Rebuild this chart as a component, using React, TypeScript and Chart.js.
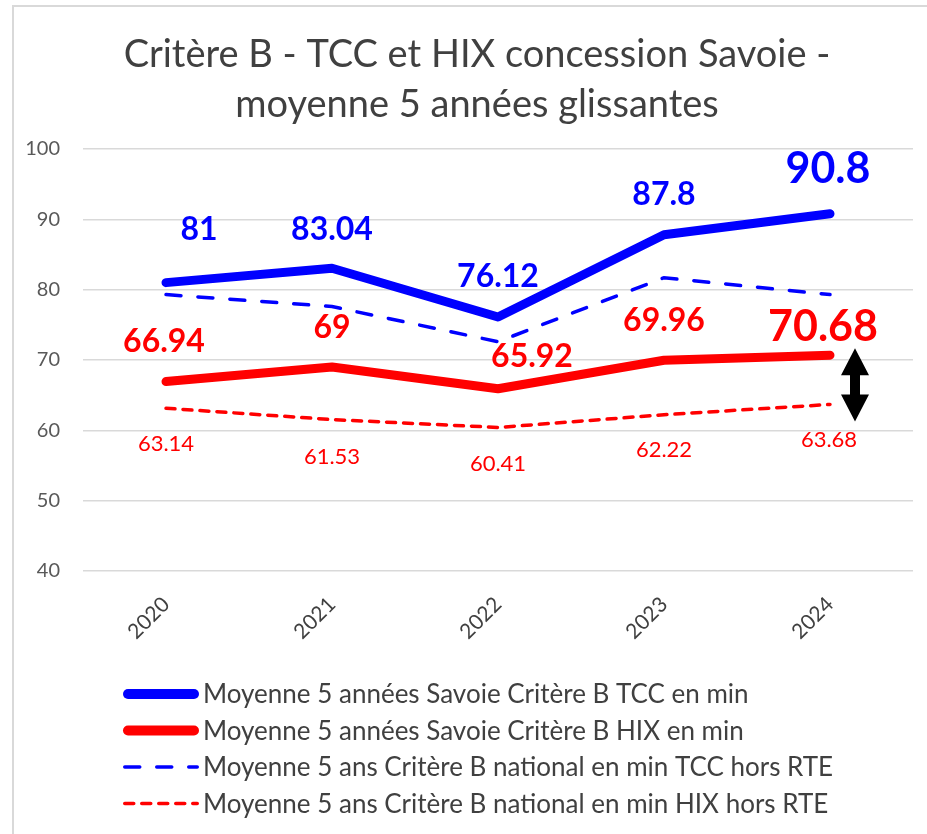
import React, { useEffect, useRef } from "react";
import { Chart, registerables } from "chart.js";

Chart.register(...registerables);

// ---- data ----
const years = ["2020", "2021", "2022", "2023", "2024"];
const tccSavoie = [81, 83.04, 76.12, 87.8, 90.8];
const hixSavoie = [66.94, 69, 65.92, 69.96, 70.68];
const tccNational = [79.3, 77.6, 72.6, 81.7, 79.3];
const hixNational = [63.14, 61.53, 60.41, 62.22, 63.68];
const yMin = 40;
const yMax = 100;
const yStep = 10;
const seriesNames = [
  "Moyenne 5 années Savoie Critère B TCC en min",
  "Moyenne 5 années Savoie Critère B HIX en min",
  "Moyenne 5 ans Critère B national en min TCC hors RTE",
  "Moyenne 5 ans Critère B national en min HIX hors RTE",
];
const titleLines = [
  "Critère B - TCC et HIX concession Savoie -",
  "moyenne 5 années glissantes",
];

// ---- styles ----
const BLUE = "#0000FF";
const RED = "#FF0000";
const TEXT = "#404040";
const AXIS_TEXT = "#595959";
const GRID = "#d9d9d9";
const FONT = "Lato, 'Noto Sans', sans-serif";

const labelStyles = [
  {
    show: true,
    color: BLUE,
    font: `bold 32px ${FONT}`,
    lastFont: `bold 43px ${FONT}`,
    offsets: [[33, -53], [0, -39], [0, -40], [0, -40], [-2, -45]],
  },
  {
    show: true,
    color: RED,
    font: `bold 32px ${FONT}`,
    lastFont: `bold 43px ${FONT}`,
    offsets: [[-2, -40], [0, -39], [34, -32], [0, -40], [-7, -28]],
  },
  { show: false, color: BLUE, font: "", lastFont: "", offsets: [] as number[][] },
  {
    show: true,
    color: RED,
    font: `22px ${FONT}`,
    lastFont: `22px ${FONT}`,
    offsets: [[0, 36], [0, 37], [0, 36], [0, 35], [-1, 35]],
  },
];

const legendLineWidths = [10, 10, 3.5, 3.5];

const decorPlugin = {
  id: "decor",
  beforeDraw(chart: any) {
    const ctx = chart.ctx;
    ctx.save();
    ctx.fillStyle = "#ffffff";
    ctx.fillRect(0, 0, chart.width, chart.height);
    // frame
    ctx.strokeStyle = GRID;
    ctx.lineWidth = 2;
    ctx.strokeRect(13, 6, chart.width + 20, chart.height + 20);
    // title
    ctx.fillStyle = TEXT;
    ctx.font = `38px ${FONT}`;
    ctx.textAlign = "center";
    ctx.textBaseline = "middle";
    titleLines.forEach((t, i) => ctx.fillText(t, 477, 55 + i * 50));
    ctx.restore();
  },
  afterDatasetsDraw(chart: any) {
    const ctx = chart.ctx;
    const xs = chart.scales.x;
    const ys = chart.scales.y;
    ctx.save();
    // arrow between Savoie HIX and national HIX for last year
    const last = years.length - 1;
    const ax = xs.getPixelForValue(last) + 25;
    const top = ys.getPixelForValue(hixSavoie[last]) - 7;
    const bot = ys.getPixelForValue(hixNational[last]) + 17;
    const hw = 14;
    const hh = 27;
    const sw = 5;
    ctx.fillStyle = "#000000";
    ctx.beginPath();
    ctx.moveTo(ax, top);
    ctx.lineTo(ax + hw, top + hh);
    ctx.lineTo(ax + sw, top + hh);
    ctx.lineTo(ax + sw, bot - hh);
    ctx.lineTo(ax + hw, bot - hh);
    ctx.lineTo(ax, bot);
    ctx.lineTo(ax - hw, bot - hh);
    ctx.lineTo(ax - sw, bot - hh);
    ctx.lineTo(ax - sw, top + hh);
    ctx.lineTo(ax - hw, top + hh);
    ctx.closePath();
    ctx.fill();

    // data labels
    ctx.textAlign = "center";
    ctx.textBaseline = "middle";
    chart.data.datasets.forEach((ds: any, i: number) => {
      const st = labelStyles[i];
      if (!st.show) return;
      const meta = chart.getDatasetMeta(i);
      meta.data.forEach((pt: any, j: number) => {
        const off = st.offsets[j] || [0, 0];
        ctx.fillStyle = st.color;
        ctx.font = j === ds.data.length - 1 ? st.lastFont : st.font;
        ctx.fillText(String(ds.data[j]), pt.x + off[0], pt.y + off[1]);
      });
    });

    // legend
    ctx.textAlign = "left";
    ctx.font = `26px ${FONT}`;
    chart.data.datasets.forEach((ds: any, i: number) => {
      const y = 694 + i * 36.5;
      const lw = legendLineWidths[i];
      ctx.strokeStyle = ds.borderColor;
      ctx.lineWidth = lw;
      ctx.lineCap = "round";
      ctx.setLineDash(ds.borderDash || []);
      ctx.beginPath();
      ctx.moveTo(123 + lw / 2, y);
      ctx.lineTo(199 - lw / 2, y);
      ctx.stroke();
      ctx.setLineDash([]);
      ctx.fillStyle = TEXT;
      ctx.fillText(ds.label, 203, y + 1);
    });
    ctx.restore();
  },
};

export default function App() {
  const ref = useRef<HTMLCanvasElement | null>(null);

  useEffect(() => {
    if (!ref.current) return;
    const chart = new Chart(ref.current, {
      type: "line",
      data: {
        labels: years,
        datasets: [
          {
            label: seriesNames[0],
            data: tccSavoie,
            borderColor: BLUE,
            backgroundColor: BLUE,
            borderWidth: 9,
            borderCapStyle: "round",
            borderJoinStyle: "round",
            pointRadius: 0,
            tension: 0,
          },
          {
            label: seriesNames[1],
            data: hixSavoie,
            borderColor: RED,
            backgroundColor: RED,
            borderWidth: 9,
            borderCapStyle: "round",
            borderJoinStyle: "round",
            pointRadius: 0,
            tension: 0,
          },
          {
            label: seriesNames[2],
            data: tccNational,
            borderColor: BLUE,
            backgroundColor: BLUE,
            borderWidth: 3.5,
            borderDash: [15, 17],
            borderCapStyle: "round",
            pointRadius: 0,
            tension: 0,
          },
          {
            label: seriesNames[3],
            data: hixNational,
            borderColor: RED,
            backgroundColor: RED,
            borderWidth: 3.5,
            borderDash: [9, 8],
            borderCapStyle: "round",
            pointRadius: 0,
            tension: 0,
          },
        ],
      },
      options: {
        animation: false,
        responsive: false,
        maintainAspectRatio: false,
        layout: { padding: { left: 0, right: 14, top: 149, bottom: 193 } },
        plugins: {
          legend: { display: false },
          title: { display: false },
          tooltip: { enabled: false },
        },
        scales: {
          x: {
            offset: true,
            grid: { display: false },
            border: { display: false },
            ticks: {
              minRotation: 45,
              maxRotation: 45,
              color: TEXT,
              font: { family: FONT, size: 21 },
              padding: 13,
            },
            afterFit: (s: any) => {
              s.height = 70;
            },
          },
          y: {
            min: yMin,
            max: yMax,
            grid: { color: GRID, lineWidth: 1.5, drawTicks: false },
            border: { display: false },
            ticks: {
              stepSize: yStep,
              color: AXIS_TEXT,
              font: { family: FONT, size: 20 },
              padding: 23,
            },
            afterFit: (s: any) => {
              s.width = 83;
            },
          },
        },
      },
      plugins: [decorPlugin],
    } as any);
    return () => chart.destroy();
  }, []);

  return (
    <div style={{ position: "absolute", left: 0, top: 0, width: 927, height: 834, overflow: "hidden" }}>
      <canvas ref={ref} width={927} height={834} style={{ display: "block" }} />
    </div>
  );
}
